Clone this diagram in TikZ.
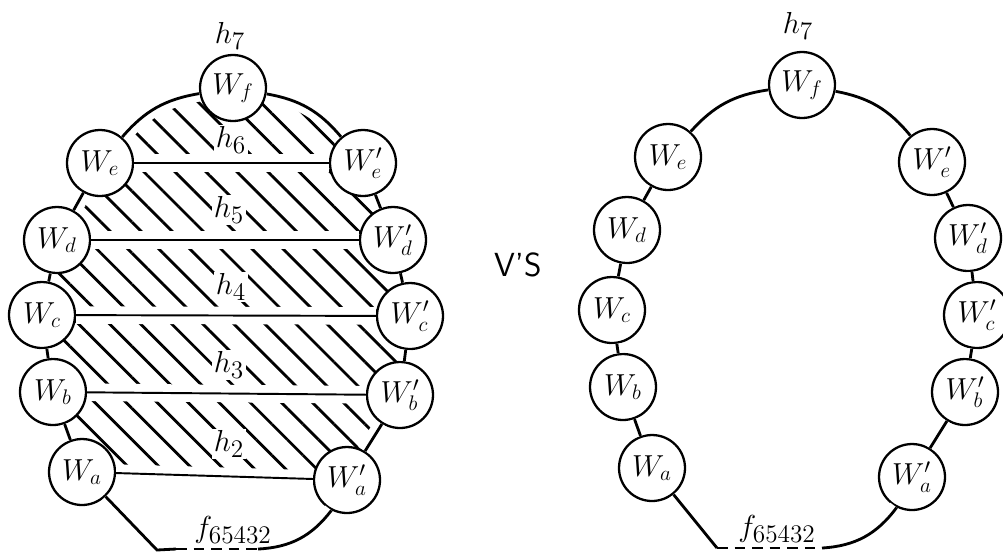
\documentclass[tikz,border=0pt]{standalone}
\usepackage{amsmath}
\usepackage{tikz}
\usetikzlibrary{positioning,backgrounds,patterns.meta}
\tikzset{
  wc/.style={circle, draw, line width=1.3pt, fill=white, minimum size=13.2mm,
             inner sep=0pt, font=\fontsize{18}{20}\selectfont},
  bnd/.style={line width=1.6pt, preaction={draw=white, line width=9pt}},
  rung/.style={line width=1.1pt, preaction={draw=white, line width=10pt}},
  gap/.style={line width=1.4pt, dash pattern=on 6pt off 4pt},
  lbl/.style={fill=white, inner sep=1pt, font=\fontsize{19}{21}\selectfont},
  hatch/.style={pattern={Lines[angle=-45,distance=12.5pt,line width=1.6pt]}},
}
\newcommand{\Vtx}[3]{\node[wc] (#1) at (#2) {$#3$};}

\begin{document}
\begin{tikzpicture}[x=0.02cm, y=-0.02cm]
  \useasboundingbox (0,0) rectangle (1003,556);
  % left chain
  \Vtx{lf}{233,88}{W_f}
  \Vtx{le}{100,163}{W_e}
  \Vtx{lep}{363,163}{W'_e}
  \Vtx{ld}{57,240}{W_d}
  \Vtx{ldp}{393,240}{W'_d}
  \Vtx{lc}{42,315}{W_c}
  \Vtx{lcp}{410,316}{W'_c}
  \Vtx{lb}{53,392}{W_b}
  \Vtx{lbp}{400,395}{W'_b}
  \Vtx{la}{82,472}{W_a}
  \Vtx{lap}{347,480}{W'_a}
  \coordinate (lb1) at (157,550);
  \coordinate (lb2) at (176,549);
  \coordinate (lb3) at (258,549);
  \begin{scope}[on background layer]
    \path[hatch] (le.center) to[bend left=20] (lf.center) to[bend left=20] (lep.center)
      -- (ldp.center) -- (lcp.center) -- (lbp.center) -- (lap.center)
      -- (la.center) -- (lb.center) -- (lc.center) -- (ld.center) -- cycle;
  \end{scope}
  \draw[bnd] (le) to[bend left=20] (lf);
  \draw[bnd] (lf) to[bend left=20] (lep);
  \draw[bnd] (le) -- (ld) -- (lc) -- (lb) -- (la) -- (lb1) -- (lb2);
  \draw[bnd] (lep) -- (ldp) -- (lcp) -- (lbp) -- (lap);
  \draw[gap] (lb2) -- (lb3);
  \draw[bnd] (lb3) to[bend right=25] (lap);
  \draw[rung] (le) -- (lep);
  \draw[rung] (ld) -- (ldp);
  \draw[rung] (lc) -- (lcp);
  \draw[rung] (lb) -- (lbp);
  \draw[rung] (la) -- (lap);
  \node[lbl, fill=none] (lh7) at (230,36) {$h_7$};
  \node[lbl] (h6) at (231,140) {$h_6$};
  \node[lbl] (h5) at (229,210) {$h_5$};
  \node[lbl] (h4) at (231,287) {$h_4$};
  \node[lbl] (h3) at (229,365) {$h_3$};
  \node[lbl] (h2) at (229,444) {$h_2$};
  \node[lbl] (lfl) at (233,530) {$f_{65432}$};

  \node[lbl, font=\fontsize{19}{21}\selectfont\sffamily] (vs) at (518,265) {V'S};

  % right chain
  \Vtx{rf}{802,85}{W_f}
  \Vtx{re}{668,157}{W_e}
  \Vtx{rep}{932,162}{W'_e}
  \Vtx{rd}{627,230}{W_d}
  \Vtx{rdp}{968,238}{W'_d}
  \Vtx{rc}{612,310}{W_c}
  \Vtx{rcp}{977,315}{W'_c}
  \Vtx{rb}{623,387}{W_b}
  \Vtx{rbp}{965,392}{W'_b}
  \Vtx{ra}{652,468}{W_a}
  \Vtx{rap}{912,477}{W'_a}
  \coordinate (rb1) at (717,548);
  \coordinate (rb2) at (822,548);
  \draw[bnd] (re) to[bend left=20] (rf);
  \draw[bnd] (rf) to[bend left=20] (rep);
  \draw[bnd] (re) -- (rd) -- (rc) -- (rb) -- (ra) -- (rb1);
  \draw[bnd] (rep) -- (rdp) -- (rcp) -- (rbp) -- (rap);
  \draw[gap] (rb1) -- (rb2);
  \draw[bnd] (rb2) to[bend right=25] (rap);
  \node[lbl, fill=none] (rh7) at (798,26) {$h_7$};
  \node[lbl] (rfl) at (777,529) {$f_{65432}$};
\end{tikzpicture}
\end{document}
